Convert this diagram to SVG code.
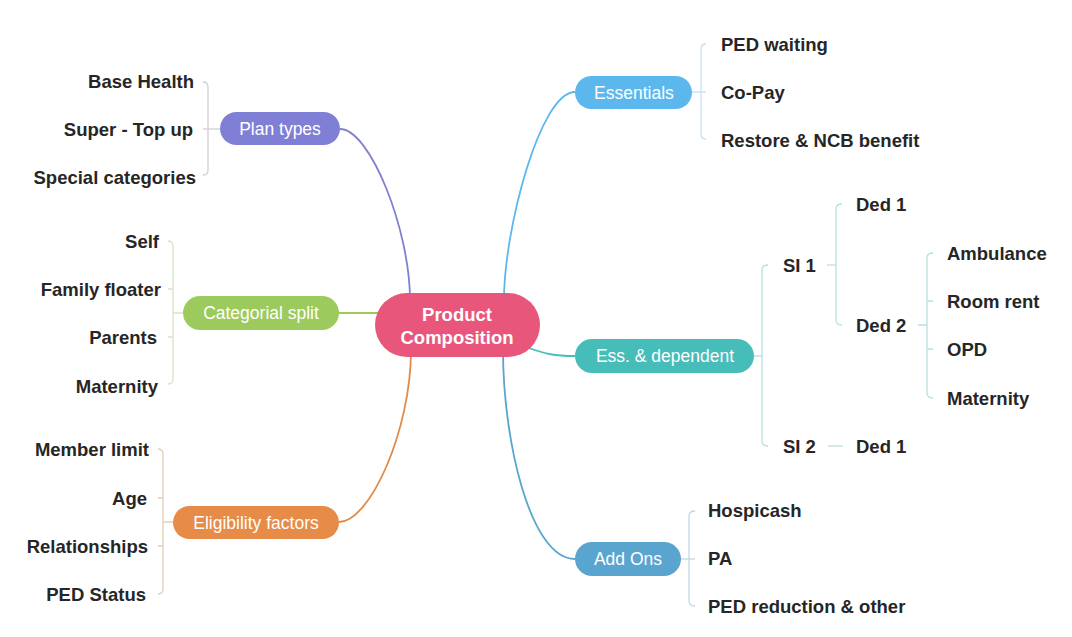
<svg xmlns="http://www.w3.org/2000/svg" width="1072" height="637" viewBox="0 0 1072 637">
<style>
.leaf{font-family:"Liberation Sans",Arial,sans-serif;font-weight:bold;font-size:18.5px;fill:#262626}
.end{text-anchor:end}
.pt{font-family:"Liberation Sans",Arial,sans-serif;font-size:17.5px;fill:#fff;text-anchor:middle}
.ct{font-family:"Liberation Sans",Arial,sans-serif;font-weight:bold;font-size:18.5px;fill:#fff;text-anchor:middle}
.br{fill:none;stroke-width:1.3}
.cn{fill:none;stroke-width:1.8}
</style>
<rect width="1072" height="637" fill="#fff"/>
<g id="connectors">
<path class="cn" stroke="#8080D2" d="M410,300 C410,230 370,129 340,129"/>
<path class="cn" stroke="#9BC95A" d="M339,313 L400,313"/>
<path class="cn" stroke="#E08A48" d="M411,350 C411,430 370,522 339,522"/>
<path class="cn" stroke="#5CB8EC" d="M504,300 C504,230 540,92 575,92"/>
<path class="cn" stroke="#46BDB9" d="M520,345 C548,355 555,356 575,356"/>
<path class="cn" stroke="#5AA5D0" d="M503,350 C503,440 530,559 575,559"/>
<g id="bracket-plan" stroke="#cfcfd6" class="br">
<path class="br" d="M203,82 Q208,82 208,87 V170 Q208,175 203,175"/>
<path class="br" d="M203,129 H220"/>
</g>
<g id="bracket-cat" stroke="#d9e4c2" class="br">
<path class="br" d="M168,241 Q173,241 173,246 V379 Q173,384 168,384"/>
<path class="br" d="M168,289 H173 M168,337 H173 M173,313 H183"/>
</g>
<g id="bracket-elig" stroke="#e6cdb5" class="br">
<path class="br" d="M158,449 Q163,449 163,454 V589 Q163,594 158,594"/>
<path class="br" d="M158,498 H163 M158,546 H163 M163,522 H173"/>
</g>
<g id="bracket-ess" stroke="#c2e2f2" class="br">
<path class="br" d="M706,44 Q701,44 701,49 V134 Q701,139 706,139"/>
<path class="br" d="M692,92 H706"/>
</g>
<g id="bracket-dep" stroke="#b9e0df" class="br">
<path class="br" d="M768,265 Q762,265 762,270 V441 Q762,446 768,446"/>
<path class="br" d="M754,356 H762"/>
<path class="br" d="M842,204 Q836,204 836,209 V320 Q836,325 842,325"/>
<path class="br" d="M827,265 H836"/>
<path class="br" d="M933,253 Q927,253 927,258 V393 Q927,398 933,398"/>
<path class="br" d="M918,325 H927 M927,301 H933 M927,349 H933"/>
<path class="br" d="M828,446 H843"/>
</g>
<g id="bracket-add" stroke="#c0d9e8" class="br">
<path class="br" d="M695,511 Q689,511 689,516 V601 Q689,606 695,606"/>
<path class="br" d="M681,559 H695"/>
</g>
</g>
<g id="central">
<rect x="375" y="293" width="165" height="64" rx="32" fill="#E8567B"/>
<text class="ct" x="457" y="320.5">Product</text>
<text class="ct" x="457" y="343.5">Composition</text>
</g>
<g id="plan-types">
<rect x="220" y="112" width="120" height="33" rx="16.5" fill="#7F7FD5"/>
<text class="pt" x="280" y="134.5">Plan types</text>
</g>
<g id="categorial-split">
<rect x="183" y="296" width="156" height="34" rx="17" fill="#9DCA5C"/>
<text class="pt" x="261" y="319">Categorial split</text>
</g>
<g id="eligibility">
<rect x="173" y="506" width="166" height="33" rx="16.5" fill="#E68B48"/>
<text class="pt" x="256" y="528.5">Eligibility factors</text>
</g>
<g id="essentials">
<rect x="575" y="76" width="117" height="33" rx="16.5" fill="#5CB8EC"/>
<text class="pt" x="634" y="98.5">Essentials</text>
</g>
<g id="ess-dependent">
<rect x="575" y="339" width="179" height="34" rx="17" fill="#46BDB9"/>
<text class="pt" x="665" y="362">Ess. &amp; dependent</text>
</g>
<g id="add-ons">
<rect x="575" y="542" width="106" height="34" rx="17" fill="#5AA5D0"/>
<text class="pt" x="628" y="565">Add Ons</text>
</g>
<g id="plan-leaves">
<text class="leaf end" x="194" y="87.5">Base Health</text>
<text class="leaf end" x="193" y="135.5">Super - Top up</text>
<text class="leaf end" x="196" y="183.5">Special categories</text>
</g>
<g id="cat-leaves">
<text class="leaf end" x="159" y="247.5">Self</text>
<text class="leaf end" x="161" y="295.5">Family floater</text>
<text class="leaf end" x="157" y="343.5">Parents</text>
<text class="leaf end" x="158" y="392.5">Maternity</text>
</g>
<g id="elig-leaves">
<text class="leaf end" x="149" y="455.5">Member limit</text>
<text class="leaf end" x="147" y="504.5">Age</text>
<text class="leaf end" x="148" y="552.5">Relationships</text>
<text class="leaf end" x="146" y="600.5">PED Status</text>
</g>
<g id="ess-leaves">
<text class="leaf" x="721" y="50.5">PED waiting</text>
<text class="leaf" x="721" y="98.5">Co-Pay</text>
<text class="leaf" x="721" y="146.5">Restore &amp; NCB benefit</text>
</g>
<g id="dep-leaves">
<text class="leaf" x="783" y="271.5">SI 1</text>
<text class="leaf" x="783" y="452.5">SI 2</text>
<text class="leaf" x="856" y="210.5">Ded 1</text>
<text class="leaf" x="856" y="331.5">Ded 2</text>
<text class="leaf" x="856" y="452.5">Ded 1</text>
<text class="leaf" x="947" y="259.5">Ambulance</text>
<text class="leaf" x="947" y="307.5">Room rent</text>
<text class="leaf" x="947" y="355.5">OPD</text>
<text class="leaf" x="947" y="404.5">Maternity</text>
</g>
<g id="add-leaves">
<text class="leaf" x="708" y="516.5">Hospicash</text>
<text class="leaf" x="708" y="564.5">PA</text>
<text class="leaf" x="708" y="613">PED reduction &amp; other</text>
</g>
</svg>
